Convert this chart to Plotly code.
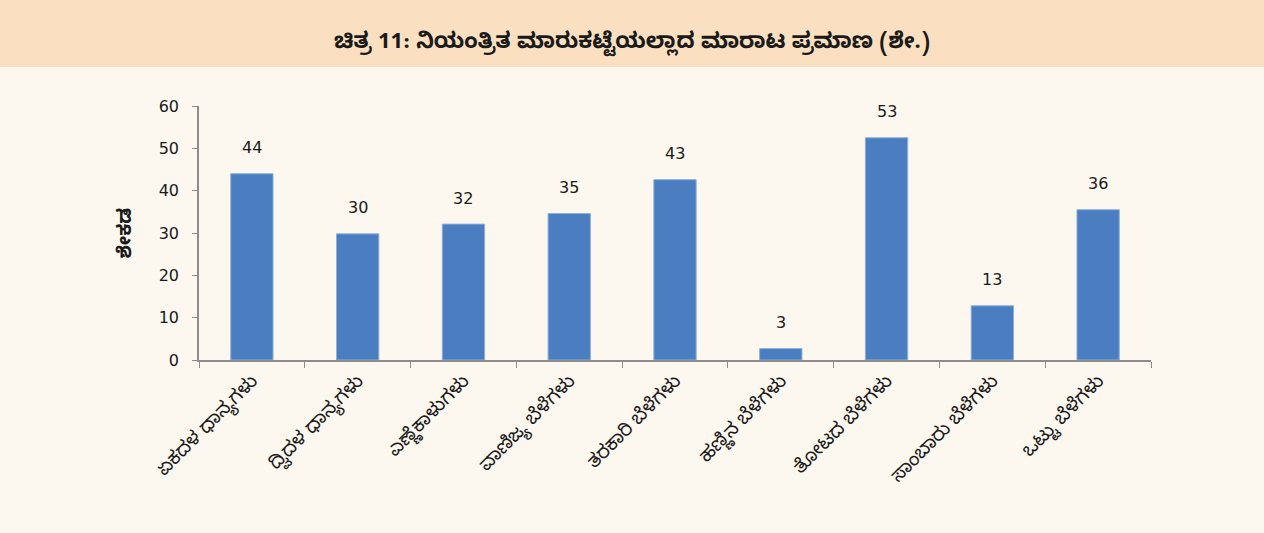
import plotly.graph_objects as go

categories = ["ಏಕದಳ ಧಾನ್ಯಗಳು", "ದ್ವಿದಳ ಧಾನ್ಯಗಳು", "ಎಣ್ಣೆಕಾಳುಗಳು", "ವಾಣಿಜ್ಯ ಬೆಳೆಗಳು",
              "ತರಕಾರಿ ಬೆಳೆಗಳು", "ಹಣ್ಣಿನ ಬೆಳೆಗಳು", "ತೋಟದ ಬೆಳೆಗಳು", "ಸಾಂಬಾರು ಬೆಳೆಗಳು",
              "ಒಟ್ಟು ಬೆಳೆಗಳು"]
values = [44.0, 29.8, 32.1, 34.6, 42.6, 2.7, 52.5, 12.8, 35.5]
labels = ["44", "30", "32", "35", "43", "3", "53", "13", "36"]
y_ticks = [0, 10, 20, 30, 40, 50, 60]

title_text = "ಚಿತ್ರ 11: ನಿಯಂತ್ರಿತ ಮಾರುಕಟ್ಟೆಯಲ್ಲಾದ ಮಾರಾಟ ಪ್ರಮಾಣ (ಶೇ.)"
y_title = "ಶೇಕಡ"

W, H = 1264, 533
ML, MR, MT, MB = 199, 113, 106, 173
plot_h = H - MT - MB
plot_w = W - ML - MR

FONT = "Noto Sans Kannada, Noto Sans, DejaVu Sans, sans-serif"
NUMFONT = "DejaVu Sans, sans-serif"

fig = go.Figure()
fig.add_trace(go.Bar(
    x=categories, y=values,
    marker=dict(color="#4A7EC0", line=dict(color="#8DB0DC", width=1)),
    hoverinfo="x+y",
))

for c, v, t in zip(categories, values, labels):
    fig.add_annotation(x=c, y=v, text=t, showarrow=False, yanchor="middle",
                       yshift=26, font=dict(size=16, color="#1a1a1a", family=NUMFONT))

# title banner
fig.add_shape(type="rect", xref="paper", yref="paper",
              x0=-ML / plot_w - 0.01, x1=1 + MR / plot_w + 0.01,
              y0=1 + (MT - 67) / plot_h, y1=1 + MT / plot_h + 0.01,
              fillcolor="#FAE0C0", line=dict(width=0), layer="below")

fig.update_layout(
    width=W, height=H,
    margin=dict(l=ML, r=MR, t=MT, b=MB),
    paper_bgcolor="#FCF7EF", plot_bgcolor="#FCF7EF",
    bargap=0.6,
    showlegend=False,
    font=dict(family=FONT, color="#1a1a1a"),
    title=dict(text="<b>" + title_text + "</b>", x=0.5, xref="container",
               y=1 - 40 / H, yref="container", yanchor="middle", xanchor="center",
               font=dict(size=22, color="#1a1a1a", family=FONT)),
    xaxis=dict(
        type="category", showline=True, linecolor="#8C8C8C", linewidth=2,
        ticks="outside", tickson="boundaries", ticklen=6, tickcolor="#8C8C8C",
        tickangle=-45, tickfont=dict(size=19, color="#1a1a1a", family=FONT),
        showgrid=False, zeroline=False,
    ),
    yaxis=dict(
        range=[0, 60], tickvals=y_ticks, showline=True, linecolor="#8C8C8C",
        linewidth=1.5, ticks="outside", ticklen=5, tickcolor="#8C8C8C",
        ticklabelstandoff=10,
        tickfont=dict(size=16, color="#1a1a1a", family=NUMFONT),
        showgrid=False, zeroline=False,
        title=dict(text="<b>" + y_title + "</b>",
                   font=dict(size=19, color="#1a1a1a", family=FONT),
                   standoff=22),
    ),
)

fig.write_html("out.html", config={"displayModeBar": False},
               post_script="document.body.style.margin='0';document.body.style.padding='0';")
